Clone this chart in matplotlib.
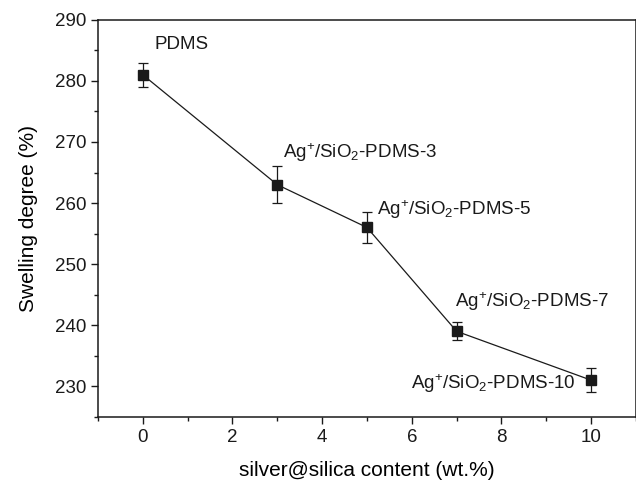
import matplotlib
matplotlib.use("Agg")
from matplotlib import pyplot as plt
from matplotlib.ticker import MultipleLocator

plt.rcParams['font.family'] = ['Liberation Sans', 'DejaVu Sans']
plt.rcParams['mathtext.fontset'] = 'custom'
plt.rcParams['mathtext.rm'] = 'Liberation Sans'
plt.rcParams['mathtext.it'] = 'Liberation Sans'

content = [0, 3, 5, 7, 10]
swelling = [281, 263, 256, 239, 231]
err = [2, 3, 2.5, 1.5, 2]
names = ['PDMS',
         r'Ag$^{+}$/SiO$_{2}$-PDMS-3',
         r'Ag$^{+}$/SiO$_{2}$-PDMS-5',
         r'Ag$^{+}$/SiO$_{2}$-PDMS-7',
         r'Ag$^{+}$/SiO$_{2}$-PDMS-10']
# label anchor positions (data coords)
label_x = [0.27, 3.12, 5.22, 6.96, 5.98]
label_y = [286, 268.3, 259, 243.8, 230.4]

fig = plt.figure(figsize=(6.36, 4.83), dpi=100)
ax = fig.add_axes([0.154, 0.137, 0.846, 0.822])

ax.errorbar(content, swelling, yerr=err, color='#1a1a1a', lw=0.9,
            marker='s', ms=6.5, capsize=3.5, elinewidth=0.9, capthick=0.9)

for x, y, t in zip(label_x, label_y, names):
    ax.text(x, y, t, fontsize=13.5, ha='left', va='center', color='#1a1a1a')

ax.set_xlim(-1, 11)
ax.set_ylim(225, 290)
ax.xaxis.set_major_locator(MultipleLocator(2))
ax.xaxis.set_minor_locator(MultipleLocator(1))
ax.yaxis.set_major_locator(MultipleLocator(10))
ax.yaxis.set_minor_locator(MultipleLocator(5))
ax.tick_params(which='both', direction='out', labelsize=13.5, colors='#1a1a1a')
ax.tick_params(which='major', length=5, width=1)
ax.tick_params(which='minor', length=3, width=1)
for s in ax.spines.values():
    s.set_linewidth(1.1)
    s.set_color('#1a1a1a')

ax.set_xlabel('silver@silica content (wt.%)', fontsize=15, labelpad=11)
ax.set_ylabel('Swelling degree (%)', fontsize=15, labelpad=12)

plt.savefig('out.png', dpi=100)
